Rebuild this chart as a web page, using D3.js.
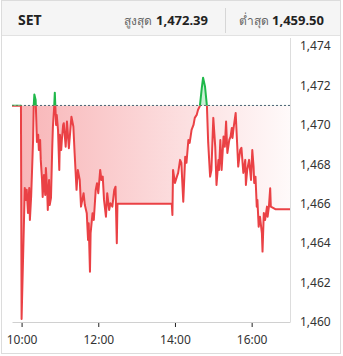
<!DOCTYPE html>
<html>
<head>
<meta charset="utf-8">
<script src="https://cdn.jsdelivr.net/npm/d3@7"></script>
<style>
  body { margin: 0; background: #fff; }
  #my_dataviz { width: 343px; height: 356px; }
</style>
</head>
<body>
<div id="my_dataviz"></div>
<script>
// index name + header numbers
const indexName = "SET";
const highLabel = "สูงสุด", lowLabel = "ต่ำสุด";
const highValue = 1472.39, lowValue = 1459.50;
const prevClose = 1470.98;   // the dashed line

// morning session (pre-open flat, then trading until 12:30)
const morningTimes = ["9:45","9:59","10:00","10:05","10:07","10:08","10:10","10:12","10:13","10:15",
  "10:18","10:19","10:20","10:22","10:23","10:24","10:26","10:27","10:29","10:30",
  "10:32","10:33","10:35","10:37","10:38","10:40","10:41","10:43","10:44","10:46",
  "10:48","10:49","10:51","10:52","10:54","10:55","10:57","10:59","11:00","11:02",
  "11:03","11:05","11:06","11:09","11:11","11:14","11:18","11:21","11:23","11:26",
  "11:28","11:31","11:33","11:37","11:39","11:42","11:44","11:45","11:47","11:48",
  "11:51","11:53","11:56","11:58","12:00","12:03","12:05","12:07","12:09","12:12",
  "12:14","12:17","12:19","12:22","12:25","12:27","12:29","12:30"];
const morningValues = [1470.97,1470.97,1460.15,1466.80,1466.19,1466.70,1465.53,1466.80,1465.17,1466.39,
  1469.23,1470.98,1471.54,1471.26,1470.25,1469.13,1469.49,1468.72,1469.23,1468.22,
  1467.20,1466.34,1467.45,1466.44,1467.81,1466.70,1465.68,1467.20,1465.93,1466.29,
  1468.88,1469.89,1470.91,1471.63,1469.99,1470.50,1469.74,1467.71,1469.49,1468.72,
  1469.23,1469.99,1470.08,1468.89,1470.16,1468.81,1470.41,1469.91,1468.56,1466.70,
  1467.71,1467.20,1465.85,1466.53,1465.93,1465.51,1464.16,1465.01,1462.55,1464.50,
  1465.51,1465.17,1466.70,1467.04,1466.53,1467.71,1467.20,1467.37,1466.19,1465.34,
  1466.53,1465.68,1466.02,1465.85,1466.70,1466.86,1463.99,1466.00];

// lunch break, last price carried
const lunchTimes = ["13:55"];
const lunchValues = [1466.00];

// afternoon session
const afternoonTimes = ["13:56","13:57","14:00","14:03","14:05","14:08","14:10","14:13","14:16","14:18",
  "14:21","14:23","14:26","14:29","14:31","14:34","14:36","14:39","14:42","14:44",
  "14:47","14:50","14:52","14:55","14:57","15:00","15:03","15:05","15:08","15:09",
  "15:11","15:13","15:16","15:18","15:20","15:22","15:25","15:27","15:29","15:30",
  "15:32","15:35","15:37","15:39","15:42","15:44","15:47","15:50","15:51","15:53",
  "15:56","15:59","16:01","16:03","16:04","16:06","16:08","16:09","16:11","16:13",
  "16:16","16:17","16:19","16:21","16:24","16:25","16:27","16:29","16:30","16:37","17:00"];
const afternoonValues = [1465.43,1467.71,1467.05,1467.37,1467.56,1468.22,1468.07,1466.10,1468.38,1468.07,
  1469.23,1469.08,1469.74,1469.99,1470.35,1470.50,1470.75,1470.96,1471.87,1472.39,
  1471.94,1470.96,1469.08,1467.37,1467.71,1470.35,1468.89,1466.95,1468.22,1467.71,
  1469.23,1467.71,1469.40,1468.89,1470.16,1468.57,1469.23,1469.40,1469.84,1469.33,
  1469.91,1470.60,1469.23,1467.88,1468.72,1468.83,1467.56,1468.22,1466.95,1467.71,
  1468.22,1467.20,1468.72,1467.88,1467.05,1467.37,1465.85,1466.19,1464.83,1465.34,
  1464.51,1463.57,1465.53,1465.17,1465.85,1465.34,1465.85,1466.78,1465.85,1465.72,1465.72];

const yTicks = [1460, 1462, 1464, 1466, 1468, 1470, 1472, 1474];
const xTickLabels = ["10:00", "12:00", "14:00", "16:00"];
const timeDomain = ["9:45", "17:00"];

// ---- build the series ----
const parseTime = d3.timeParse("%H:%M");
const allTimes = morningTimes.concat(lunchTimes, afternoonTimes);
const allValues = morningValues.concat(lunchValues, afternoonValues);
const data = allTimes.map((t, i) => ({ t: parseTime(t), v: allValues[i] }));

const W = 343, H = 356;
const plot = { left: 12, right: 290, top: 38, bottom: 322 };
const font = "'Noto Sans', 'Segoe UI', Arial, sans-serif";

const svg = d3.select("#my_dataviz")
  .append("svg")
    .attr("width", W)
    .attr("height", H)
    .style("font-family", font);

// frame + header
svg.append("rect")
  .attr("x", 1.5).attr("y", 0.5).attr("width", 339).attr("height", 353)
  .attr("fill", "#fff").attr("stroke", "#dcdcdc");
svg.append("rect")
  .attr("x", 2).attr("y", 1).attr("width", 338).attr("height", 34.5)
  .attr("fill", "#f5f5f5");
svg.append("line")
  .attr("x1", 2).attr("x2", 340).attr("y1", 35.5).attr("y2", 35.5)
  .attr("stroke", "#e2e2e2");

svg.append("text").attr("x", 18).attr("y", 24.5)
  .attr("font-size", "14px").attr("font-weight", "bold").attr("fill", "#222")
  .text(indexName);

const fmt = d3.format(",.2f");
svg.append("text").attr("x", 152).attr("y", 25).attr("text-anchor", "end")
  .attr("font-size", "12px").attr("fill", "#666").text(highLabel);
svg.append("text").attr("x", 208).attr("y", 25).attr("text-anchor", "end")
  .attr("font-size", "13px").attr("font-weight", "bold").attr("fill", "#222")
  .text(fmt(highValue));
svg.append("line").attr("x1", 225.5).attr("x2", 225.5).attr("y1", 8).attr("y2", 33)
  .attr("stroke", "#d6d6d6");
svg.append("text").attr("x", 269).attr("y", 25).attr("text-anchor", "end")
  .attr("font-size", "12px").attr("fill", "#666").text(lowLabel);
svg.append("text").attr("x", 324).attr("y", 25).attr("text-anchor", "end")
  .attr("font-size", "13px").attr("font-weight", "bold").attr("fill", "#222")
  .text(fmt(lowValue));

// scales
const x = d3.scaleTime()
  .domain(timeDomain.map(parseTime))
  .range([plot.left, plot.right]);
const y = d3.scaleLinear()
  .domain([1460, 1474.4])
  .range([plot.bottom, plot.top]);
const yBase = y(prevClose);

// clip paths: above / below previous close
const defs = svg.append("defs");
defs.append("clipPath").attr("id", "above")
  .append("rect").attr("x", 0).attr("y", 0).attr("width", W).attr("height", yBase);
defs.append("clipPath").attr("id", "below")
  .append("rect").attr("x", 0).attr("y", yBase).attr("width", W).attr("height", H - yBase);

const grad = defs.append("linearGradient").attr("id", "redFade")
  .attr("gradientUnits", "userSpaceOnUse")
  .attr("x1", plot.left).attr("x2", plot.right).attr("y1", 0).attr("y2", 0);
grad.append("stop").attr("offset", "0%").attr("stop-color", "#ee4b50").attr("stop-opacity", 0.42);
grad.append("stop").attr("offset", "100%").attr("stop-color", "#ee4b50").attr("stop-opacity", 0.03);

// right border of plot
svg.append("line")
  .attr("x1", plot.right + 0.5).attr("x2", plot.right + 0.5)
  .attr("y1", plot.top).attr("y2", plot.bottom)
  .attr("stroke", "#dddddd");

// area between price and previous close
const area = d3.area()
  .x(d => x(d.t))
  .y0(yBase)
  .y1(d => y(d.v));
svg.append("path").datum(data)
  .attr("d", area).attr("fill", "url(#redFade)").attr("clip-path", "url(#below)");
svg.append("path").datum(data)
  .attr("d", area).attr("fill", "#2cc05a").attr("fill-opacity", 0.25)
  .attr("clip-path", "url(#above)");

// previous close dashed line
svg.append("line")
  .attr("x1", plot.left).attr("x2", plot.right)
  .attr("y1", yBase).attr("y2", yBase)
  .attr("stroke", "#4a6072").attr("stroke-width", 1)
  .attr("stroke-dasharray", "2,2");

// price line, green above / red below
const line = d3.line()
  .x(d => x(d.t))
  .y(d => y(d.v));
svg.append("path").datum(data)
  .attr("d", line).attr("fill", "none")
  .attr("stroke", "#ea4145").attr("stroke-width", 2).attr("stroke-linejoin", "round")
  .attr("clip-path", "url(#below)");
svg.append("path").datum(data)
  .attr("d", line).attr("fill", "none")
  .attr("stroke", "#1fb84a").attr("stroke-width", 2).attr("stroke-linejoin", "round")
  .attr("clip-path", "url(#above)");

// x axis
const xAxis = svg.append("g")
  .attr("transform", `translate(0,${plot.bottom})`)
  .call(d3.axisBottom(x)
    .tickValues(xTickLabels.map(parseTime))
    .tickFormat(d3.timeFormat("%H:%M"))
    .tickSize(5)
    .tickSizeOuter(0));
xAxis.select(".domain").attr("stroke", "#d0d0d0");
xAxis.selectAll(".tick line").attr("stroke", "#222").attr("y1", 1);
xAxis.selectAll(".tick text")
  .attr("y", 13).attr("font-size", "12px").attr("fill", "#333")
  .attr("font-family", font);

// y axis on the right
const yAxis = svg.append("g")
  .attr("transform", `translate(${plot.right},0)`)
  .call(d3.axisRight(y)
    .tickValues(yTicks)
    .tickFormat(d3.format(",d"))
    .tickSize(0));
yAxis.select(".domain").remove();
yAxis.selectAll(".tick text")
  .attr("x", 10).attr("font-size", "12px").attr("fill", "#333")
  .attr("font-family", font);
</script>
</body>
</html>
